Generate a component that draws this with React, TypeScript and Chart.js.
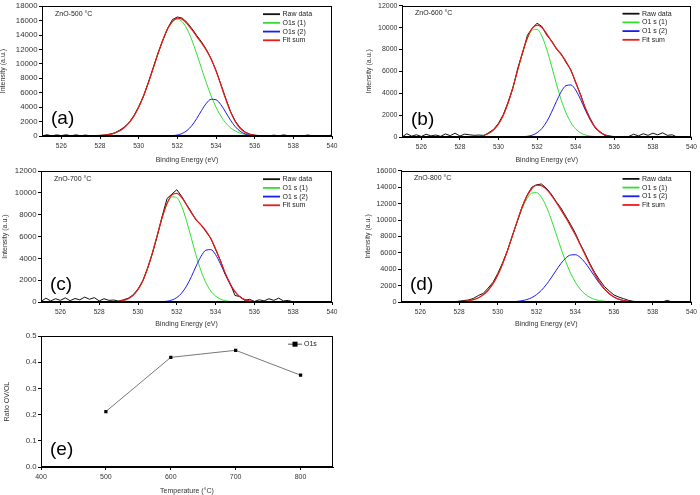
import React, { useEffect, useRef } from "react";
import { Chart, registerables } from "chart.js";

Chart.register(...registerables);

const FONT = "'Liberation Sans', Arial, Helvetica, sans-serif";

// ---------- DATA ----------
const energyTicks = [526, 528, 530, 532, 534, 536, 538, 540];
const ticks18k = [0, 2000, 4000, 6000, 8000, 10000, 12000, 14000, 16000, 18000];
const ticks12k = [0, 2000, 4000, 6000, 8000, 10000, 12000];
const ticks16k = [0, 2000, 4000, 6000, 8000, 10000, 12000, 14000, 16000];

const fitEnergies = [
  525,
  528, 528.25, 528.5, 528.75, 529, 529.25, 529.5, 529.75,
  530, 530.25, 530.5, 530.75, 531, 531.25, 531.5, 531.75,
  532, 532.25, 532.5, 532.75, 533, 533.25, 533.5, 533.75,
  534, 534.25, 534.5, 534.75, 535, 535.25, 535.5, 535.75,
  536, 536.25, 536.5, 536.75, 537, 537.25, 537.5, 537.75, 538,
  540,
];

const rawEnergies = Array.from({ length: 61 }, (_, i) => 525 + i * 0.25);

// Panel (a) ZnO-500
const greenA = [0, 60, 118, 224, 403, 697, 1152, 1821, 2759, 4000, 5552, 7376, 9381, 11419, 13308, 14844, 15850, 16200, 15850, 14844, 13308, 11419, 9381, 7376, 5552, 4000, 2759, 1821, 1152, 697, 403, 224, 118, 60, 30, 15, 7, 3, 0, 0, 0, 0, 0];
const blueA = [0, 0, 0, 0, 0, 0, 0, 0, 0, 0, 0, 0, 0, 1, 4, 15, 50, 141, 348, 757, 1441, 2407, 3526, 4527, 5096, 5029, 4353, 3300, 2195, 1280, 655, 293, 115, 40, 12, 3, 0, 0, 0, 0, 0, 0, 0];
const fitA = [0, 60, 118, 224, 403, 697, 1152, 1821, 2759, 4000, 5552, 7376, 9381, 11420, 13312, 14859, 15900, 16341, 16198, 15601, 14749, 13826, 12907, 11903, 10648, 9029, 7112, 5121, 3347, 1977, 1058, 517, 233, 100, 42, 18, 7, 3, 0, 0, 0, 0, 0];
const rawA = [
  0, 180, 20, 150,
  60, 170, 30, 160,
  40, 130, 20, 60,
  90, 130, 260, 420,
  780, 1220, 1850, 2810,
  4060, 5520, 7420, 9450,
  11500, 13250, 14950, 16150,
  16500, 16350, 15750, 14900,
  13950, 13050, 12000, 10700,
  9100, 7180, 5250, 3400,
  2050, 1150, 560, 250,
  120, 60, 20, 30,
  120, 10, 160, 20,
  0, 30, 10, 140,
  0, 20, 60, 0,
  150,
];

// Panel (b) ZnO-600
const greenB = [0, 1, 4, 11, 29, 70, 159, 334, 653, 1184, 1996, 3125, 4548, 6148, 7722, 9011, 9770, 9842, 9212, 8010, 6473, 4859, 3389, 2196, 1322, 740, 384, 186, 83, 35, 13, 5, 2, 0, 0, 0, 0, 0, 0, 0, 0, 0, 0];
const blueB = [0, 0, 0, 0, 0, 0, 0, 0, 0, 0, 0, 0, 0, 7, 23, 66, 169, 386, 782, 1411, 2267, 3246, 4139, 4701, 4756, 4285, 3439, 2459, 1566, 888, 449, 202, 81, 29, 9, 3, 1, 0, 0, 0, 0, 0, 0];
const fitB = [0, 1, 4, 11, 29, 70, 159, 334, 653, 1184, 1996, 3125, 4548, 6155, 7745, 9077, 9939, 10228, 9994, 9421, 8740, 8105, 7528, 6897, 6078, 5025, 3823, 2645, 1649, 923, 462, 207, 83, 29, 9, 3, 1, 0, 0, 0, 0, 0, 0];
const rawB = [
  0, 300, 80, 200,
  50, 250, 100, 180,
  60, 280, 120, 350,
  90, 260, 200, 150,
  180, 140, 400, 700,
  1250, 2050, 3200, 4500,
  6300, 7700, 9300, 9950,
  10400, 10100, 9300, 8800,
  8050, 7600, 6800, 6150,
  4950, 3900, 2600, 1700,
  850, 500, 150, 80,
  0, 0, 0, 50,
  250, 100, 300, 150,
  350, 200, 380, 150,
  200, 0, 0, 0,
  0,
];

// Panel (c) ZnO-700
const greenC = [0, 1, 3, 9, 24, 60, 142, 307, 616, 1143, 1958, 3105, 4554, 6175, 7745, 8985, 9640, 9564, 8777, 7449, 5847, 4244, 2850, 1769, 1016, 539, 265, 120, 51, 20, 7, 2, 0, 0, 0, 0, 0, 0, 0, 0, 0, 0, 0];
const blueC = [0, 0, 0, 0, 0, 0, 0, 0, 0, 0, 0, 0, 0, 8, 26, 73, 182, 408, 816, 1457, 2323, 3303, 4195, 4752, 4806, 4339, 3497, 2515, 1615, 925, 473, 216, 88, 32, 10, 3, 1, 0, 0, 0, 0, 0, 0];
const fitC = [0, 1, 3, 9, 24, 60, 142, 307, 616, 1143, 1958, 3105, 4554, 6183, 7771, 9058, 9822, 9972, 9593, 8906, 8170, 7547, 7045, 6521, 5822, 4878, 3762, 2635, 1666, 945, 480, 218, 88, 32, 10, 3, 1, 0, 0, 0, 0, 0, 0];
const rawC = [
  50, 350, 100, 300,
  150, 380, 120, 320,
  200, 450, 250, 400,
  100, 300, 150, 180,
  80, 200, 350, 650,
  1200, 1950, 3150, 4500,
  6100, 7900, 9500, 9900,
  10300, 9700, 8950, 8250,
  7500, 7100, 6450, 5850,
  4800, 3800, 2550, 1700,
  600, 500, 150, 250,
  50, 200, 100, 300,
  150, 350, 100, 150,
  0, 0, 0, 0,
  0, 0, 0, 0,
  0,
];

// Panel (d) ZnO-800
const greenD = [0, 37, 76, 152, 286, 515, 881, 1436, 2234, 3307, 4664, 6267, 8025, 9789, 11375, 12595, 13283, 13348, 12778, 11655, 10128, 8383, 6612, 4969, 3556, 2426, 1576, 975, 575, 323, 173, 88, 43, 20, 9, 4, 2, 1, 0, 0, 0, 0, 0];
const blueD = [0, 0, 0, 0, 0, 0, 0, 0, 0, 2, 5, 15, 35, 76, 155, 298, 535, 902, 1426, 2112, 2933, 3820, 4665, 5341, 5733, 5770, 5445, 4817, 3997, 3109, 2267, 1550, 994, 598, 336, 178, 88, 41, 18, 7, 3, 1, 0];
const fitD = [0, 37, 76, 152, 286, 515, 881, 1436, 2234, 3309, 4669, 6282, 8060, 9865, 11530, 12893, 13818, 14250, 14204, 13767, 13061, 12203, 11277, 10310, 9289, 8196, 7021, 5792, 4572, 3432, 2440, 1638, 1037, 618, 345, 182, 90, 42, 18, 7, 3, 1, 0];
const rawD = [
  0, 20, 0, 30,
  0, 20, 10, 0,
  30, 0, 20, 40,
  100, 180, 250, 450,
  800, 1050, 1700, 2400,
  3500, 4800, 6300, 8100,
  9800, 11600, 13000, 14000,
  14300, 14400, 13900, 13200,
  12300, 11500, 10500, 9500,
  8400, 7100, 5950, 4700,
  3600, 2700, 1900, 1350,
  850, 600, 400, 200,
  80, 20, 0, 10,
  0, 20, 0, 200,
  0, 20, 0, 10,
  0,
];

// Panel (e) ratio
const temperatures = [500, 600, 700, 800];
const ratioValues = [0.212, 0.419, 0.446, 0.351];
const temperatureTicks = [400, 500, 600, 700, 800];
const ratioTicks = [0, 0.1, 0.2, 0.3, 0.4, 0.5];

// ---------- STYLE ----------
const RED = "#f01818";
const GREEN = "#2fe02f";
const BLUE = "#1c1cf0";
const BLACK = "#111111";
const TICK_COLOR = "#333333";

type Box = [number, number, number, number];
type Plot = [number, number, number, number];

interface Spec {
  box: Box;
  plot: Plot;
  kind: "xps" | "ratio";
  yTicks: number[];
  yMax: number;
  yFont: number;
  xFont: number;
  yTitlePad: number;
  xTitlePad: number;
  sample?: string;
  letter: string;
  legend?: string[];
  green?: number[];
  blue?: number[];
  fit?: number[];
  raw?: number[];
}

const xy = (xs: number[], ys: number[]) => xs.map((x, i) => ({ x, y: ys[i] }));

function makePlugin(spec: Spec) {
  return {
    id: "decor",
    afterDraw(chart: any) {
      const { ctx } = chart;
      const { left, top, right, bottom } = chart.chartArea;
      ctx.save();
      // frame
      ctx.strokeStyle = "#000";
      ctx.lineWidth = 1;
      const l = Math.round(left) + 0.5;
      const t = Math.round(top) + 0.5;
      const r = Math.round(right) - 0.5;
      const b = Math.round(bottom) - 0.5;
      ctx.strokeRect(l, t, r - l, b - t);

      ctx.fillStyle = "#000";
      ctx.textBaseline = "middle";
      ctx.textAlign = "left";
      // big letter
      ctx.font = `19px ${FONT}`;
      ctx.fillText(spec.letter, left + 9, bottom - 17);

      if (spec.kind === "xps") {
        ctx.font = `7px ${FONT}`;
        ctx.fillStyle = "#222";
        ctx.fillText(spec.sample || "", left + 13, top + 7.5);
        const colors = [BLACK, GREEN, BLUE, RED];
        (spec.legend || []).forEach((lab, i) => {
          const y = top + 8 + i * 8.7;
          ctx.strokeStyle = colors[i];
          ctx.lineWidth = 1.8;
          ctx.beginPath();
          ctx.moveTo(right - 69, y);
          ctx.lineTo(right - 52, y);
          ctx.stroke();
          ctx.fillStyle = "#222";
          ctx.fillText(lab, right - 49.5, y);
        });
      } else {
        const y = top + 8;
        ctx.strokeStyle = "#555";
        ctx.lineWidth = 1;
        ctx.beginPath();
        ctx.moveTo(right - 45, y);
        ctx.lineTo(right - 31, y);
        ctx.stroke();
        ctx.fillStyle = "#000";
        ctx.fillRect(right - 40.5, y - 2.5, 5, 5);
        ctx.font = `7px ${FONT}`;
        ctx.fillStyle = "#222";
        ctx.fillText("O1s", right - 29, y);
      }
      ctx.restore();
    },
  };
}

function buildConfig(spec: Spec): any {
  const [bl, bt, bw, bh] = spec.box;
  const [pl, pt, pr, pb] = spec.plot;
  const yW = pl - bl;
  const xH = bt + bh - pb;
  const isXps = spec.kind === "xps";

  const datasets: any[] = isXps
    ? [
        { label: "Fit sum", data: xy(fitEnergies, spec.fit!), borderColor: RED, borderWidth: 1.2, cubicInterpolationMode: "monotone", order: 0 },
        { label: "Raw data", data: xy(rawEnergies, spec.raw!), borderColor: BLACK, borderWidth: 1, tension: 0, order: 1 },
        { label: "O1s (2)", data: xy(fitEnergies, spec.blue!), borderColor: BLUE, borderWidth: 1, cubicInterpolationMode: "monotone", order: 2 },
        { label: "O1s (1)", data: xy(fitEnergies, spec.green!), borderColor: GREEN, borderWidth: 1, cubicInterpolationMode: "monotone", order: 3 },
      ]
    : [
        {
          label: "O1s",
          data: xy(temperatures, ratioValues),
          borderColor: "#555",
          borderWidth: 0.8,
          pointStyle: "rect",
          pointRadius: 2.3,
          pointBackgroundColor: "#000",
          pointBorderColor: "#000",
          pointBorderWidth: 0,
          tension: 0,
        },
      ];
  datasets.forEach((d) => {
    d.fill = false;
    if (isXps) d.pointRadius = 0;
  });

  const xTicksArr = isXps ? energyTicks : temperatureTicks;

  return {
    type: "line",
    data: { datasets },
    options: {
      responsive: false,
      animation: false,
      devicePixelRatio: 1,
      layout: { padding: { left: 0, top: pt - bt, right: bl + bw - pr, bottom: 0 } },
      plugins: { legend: { display: false }, tooltip: { enabled: false }, title: { display: false } },
      scales: {
        x: {
          type: "linear",
          min: isXps ? 525 : 400,
          max: isXps ? 540 : 850,
          afterBuildTicks: (ax: any) => {
            ax.ticks = xTicksArr.map((v) => ({ value: v }));
          },
          afterFit: (ax: any) => {
            ax.height = xH;
          },
          ticks: {
            autoSkip: false,
            maxRotation: 0,
            padding: 3,
            color: TICK_COLOR,
            font: { family: FONT, size: spec.xFont },
            callback: (v: any) => String(v),
          },
          grid: { display: true, drawOnChartArea: false, drawTicks: true, tickLength: 3, color: "#000" },
          border: { display: true, color: "#000", width: 1 },
          title: {
            display: true,
            text: isXps ? "Binding Energy (eV)" : "Temperature (°C)",
            color: "#333",
            font: { family: FONT, size: 7, lineHeight: 1 },
            padding: { top: 0, bottom: spec.xTitlePad },
          },
        },
        y: {
          type: "linear",
          min: 0,
          max: spec.yMax,
          afterBuildTicks: (ax: any) => {
            ax.ticks = spec.yTicks.map((v) => ({ value: v }));
          },
          afterFit: (ax: any) => {
            ax.width = yW;
          },
          ticks: {
            autoSkip: false,
            padding: 1.5,
            color: TICK_COLOR,
            font: { family: FONT, size: spec.yFont },
            callback: (v: any) => (isXps ? String(v) : Number(v).toFixed(1)),
          },
          grid: { display: true, drawOnChartArea: false, drawTicks: true, tickLength: 3, color: "#000" },
          border: { display: true, color: "#000", width: 1 },
          title: {
            display: true,
            text: isXps ? "Intensity (a.u.)" : "Ratio OV/OL",
            color: "#333",
            font: { family: FONT, size: 7, lineHeight: 1 },
            padding: { top: spec.yTitlePad, bottom: 0 },
          },
        },
      },
    },
    plugins: [makePlugin(spec)],
  };
}

const legendA = ["Raw data", "O1s (1)", "O1s (2)", "Fit sum"];
const legendOther = ["Raw data", "O1 s (1)", "O1 s (2)", "Fit sum"];

const specs: Spec[] = [
  {
    box: [0, 0, 345, 165], plot: [42, 3, 332, 136], kind: "xps", yTicks: ticks18k, yMax: 18000,
    yFont: 7.8, xFont: 6.6, yTitlePad: 0, xTitlePad: 1.5, sample: "ZnO-500 °C", letter: "(a)",
    legend: legendA, green: greenA, blue: blueA, fit: fitA, raw: rawA,
  },
  {
    box: [345, 0, 355, 165], plot: [402, 5, 693, 137], kind: "xps", yTicks: ticks12k, yMax: 12000,
    yFont: 7, xFont: 6.6, yTitlePad: 20.5, xTitlePad: 1.5, sample: "ZnO-600 °C", letter: "(b)",
    legend: legendOther, green: greenB, blue: blueB, fit: fitB, raw: rawB,
  },
  {
    box: [0, 165, 345, 165], plot: [41, 169, 332, 302], kind: "xps", yTicks: ticks12k, yMax: 12000,
    yFont: 7.8, xFont: 6.6, yTitlePad: 1.5, xTitlePad: 2.5, sample: "ZnO-700 °C", letter: "(c)",
    legend: legendOther, green: greenC, blue: blueC, fit: fitC, raw: rawC,
  },
  {
    box: [345, 165, 355, 165], plot: [401, 170, 693, 302], kind: "xps", yTicks: ticks16k, yMax: 16000,
    yFont: 7.3, xFont: 6.6, yTitlePad: 19.5, xTitlePad: 2.5, sample: "ZnO-800 °C", letter: "(d)",
    legend: legendOther, green: greenD, blue: blueD, fit: fitD, raw: rawD,
  },
  {
    box: [0, 330, 345, 165], plot: [41, 334, 333, 467], kind: "ratio", yTicks: ratioTicks, yMax: 0.5,
    yFont: 7.8, xFont: 7, yTitlePad: 3.5, xTitlePad: 0, letter: "(e)",
  },
];

function Panel({ spec }: { spec: Spec }) {
  const ref = useRef<HTMLCanvasElement>(null);
  useEffect(() => {
    const chart = new Chart(ref.current as HTMLCanvasElement, buildConfig(spec));
    return () => chart.destroy();
  }, [spec]);
  const [l, t, w, h] = spec.box;
  return (
    <canvas
      ref={ref}
      width={w}
      height={h}
      style={{ position: "absolute", left: l, top: t, width: w, height: h, display: "block" }}
    />
  );
}

export default function App() {
  return (
    <div style={{ position: "absolute", left: 0, top: 0, width: 700, height: 495, background: "#fff", overflow: "hidden" }}>
      {specs.map((s, i) => (
        <Panel key={i} spec={s} />
      ))}
    </div>
  );
}
